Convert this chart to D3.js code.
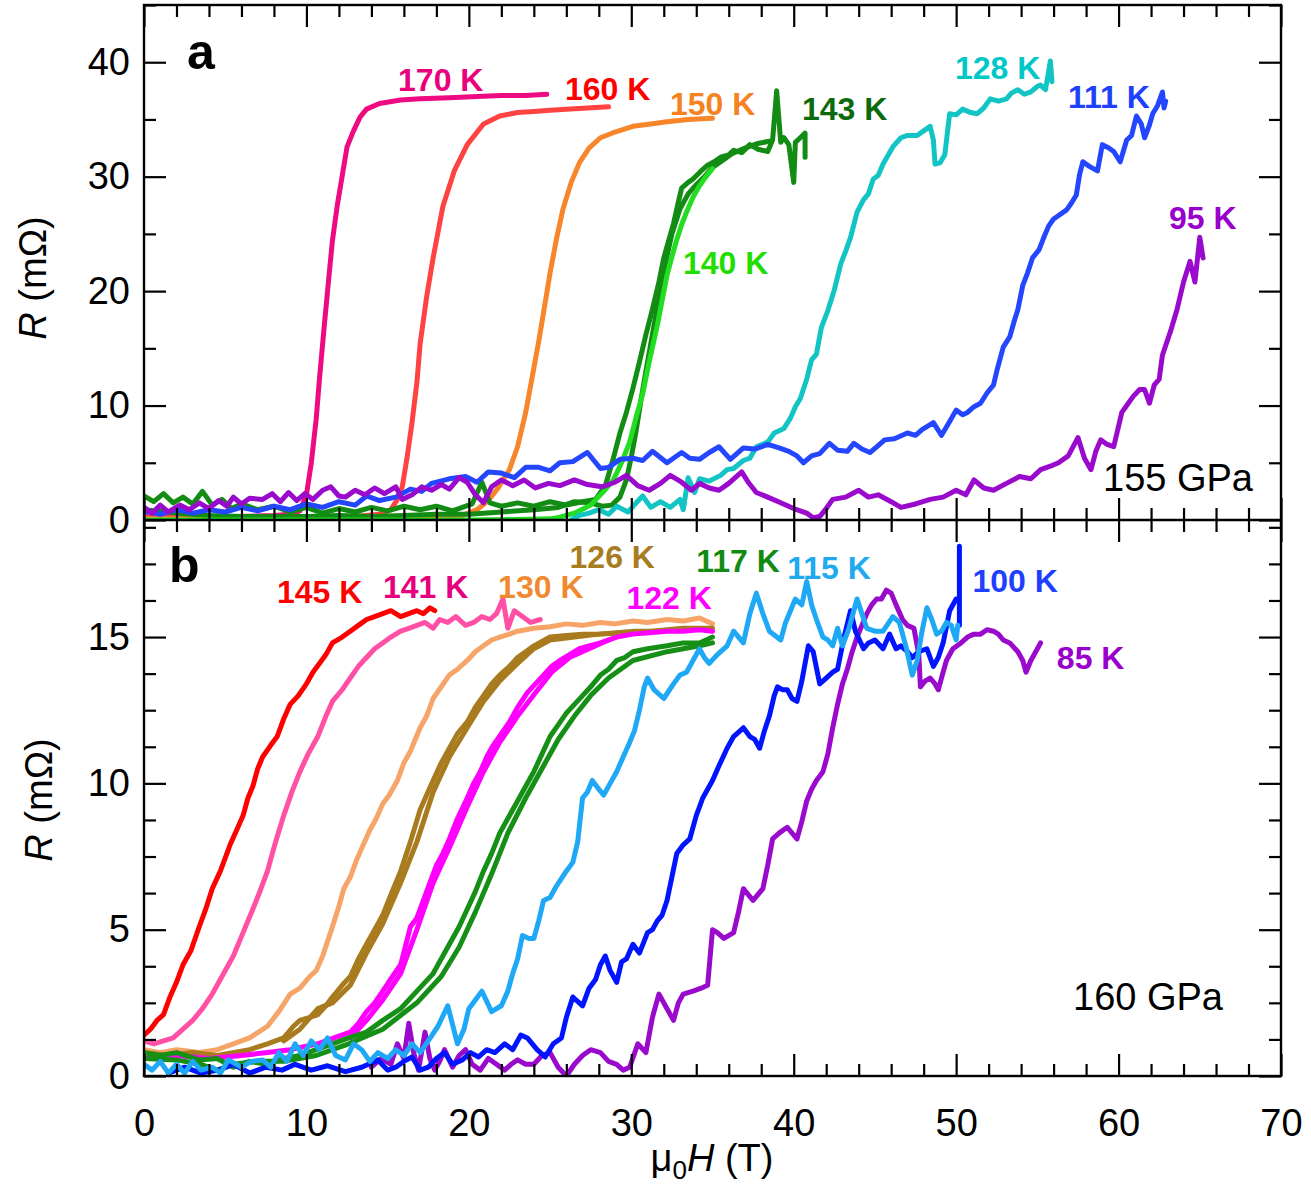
<!DOCTYPE html>
<html><head><meta charset="utf-8">
<script src="https://cdn.jsdelivr.net/npm/d3@7"></script>
<style>
body{margin:0;background:#fff;}
svg{display:block;font-family:"Liberation Sans",Arial,sans-serif;}
</style></head>
<body>
<svg id="chart" width="1311" height="1194"></svg>
<script>
// ---------- DATA (mu0H in T, R in mOhm) ----------
const xTicksMajor = [0,10,20,30,40,50,60,70];
const aTicksMajor = [0,10,20,30,40];
const bTicksMajor = [0,5,10,15];

// Panel a (155 GPa)
const a170 = [[0,0.3],[2,0.2],[4,0.3],[6,0.3],[8,0.4],[9,0.5],[9.6,0.8],[10,2.2],[10.3,5],[10.6,8.8],[10.8,12.3],[11.1,17],[11.4,21.5],[11.6,24.4],[11.9,27.5],[12.1,29.2],[12.5,32.6],[12.9,34],[13.3,35.2],[13.7,35.9],[14.5,36.4],[15.8,36.7],[17,36.8],[18.8,36.9],[20.5,37],[22,37.1],[23.5,37.1],[24.8,37.2]];
const a160 = [[0,0.2],[4,0.2],[8,0.2],[11,0.2],[13,0.3],[14.5,0.5],[15.2,0.9],[15.6,1.8],[15.9,2.9],[16.2,5.5],[16.5,8.5],[16.8,12],[17.0,15.4],[17.4,19.5],[17.8,22.9],[18.4,27.4],[19.1,30.5],[19.9,32.8],[20.9,34.6],[21.9,35.3],[23,35.6],[24,35.7],[25,35.8],[26,35.9],[27.3,36],[28.6,36.1]];
const a150 = [[0,0.1],[5,0.1],[10,0.1],[15,0.1],[18,0.2],[19.4,0.3],[20.5,0.9],[21.2,1.7],[21.8,2.8],[22.5,4.4],[23.0,6.4],[23.5,9.4],[23.9,12.5],[24.3,15.6],[24.7,19],[25.0,21.6],[25.4,24.6],[25.8,27.2],[26.3,29.5],[26.8,31.2],[27.4,32.5],[28.1,33.4],[29,33.9],[30.1,34.4],[31.2,34.6],[32.2,34.8],[33.5,35],[35,35.1]];
const a143up = [[0,2.1],[0.6,1.6],[1.2,2.3],[1.8,1.5],[2.4,2],[3,1.4],[3.6,2.5],[4.2,1.3],[4.8,1.8],[5.4,1],[6,1.4],[7,0.9],[8,1.2],[9,0.7],[10,1.1],[11,0.6],[12,1],[13,0.7],[14,1.1],[15,0.8],[16,1.2],[17,0.9],[18,1.2],[19,0.8],[20.2,1.4],[20.8,3.3],[21.3,1.5],[22,1.2],[23,1.5],[24,1.2],[25,1.6],[26,1.3],[27,1.6],[27.8,1.8],[28.4,3],[28.9,5.4],[29.3,7.6],[29.7,9.4],[30.1,11.5],[30.5,13.8],[30.9,16.2],[31.3,18.4],[31.7,20.8],[32.0,22.9],[32.3,24.4],[32.6,25.9],[32.9,27.8],[33.1,29],[33.5,29.5],[33.8,29.8],[34.3,30.5],[34.7,31],[35.1,31.3],[35.5,31.7],[36,31.9],[36.3,32.3],[36.8,32.1],[37.3,32.8],[37.8,32.4],[38.4,32.2],[38.7,33.2],[38.95,37.5],[39.2,33],[39.4,33.4],[39.7,32.8],[40.0,29.5],[40.1,33],[40.4,33.4],[40.7,33.8],[40.7,31.7]];
const a143down = [[0,0.9],[2,0.6],[4,0.4],[6,0.3],[8,0.3],[10,0.3],[12,0.4],[14,0.3],[16,0.4],[18,0.5],[20,0.5],[22,0.7],[24,0.9],[25.5,1.1],[26.5,1.6],[27.5,1.5],[28.2,1.2],[28.8,1.3],[29.3,2],[29.7,3.5],[30,5.5],[30.3,7.8],[30.6,10.5],[30.9,13],[31.3,16.2],[31.7,19.4],[32.1,22.4],[32.5,25],[33,27.2],[33.5,28.5],[34,29.3],[34.5,30],[35,30.8],[35.6,31.4],[36.2,32],[37,32.5],[37.8,32.9],[38.5,33.1]];
const a140 = [[0,0],[5,0],[10,0],[15,0],[20,0],[23,0.05],[25,0.1],[25.6,0.25],[26.5,0.6],[27.5,1.3],[28.3,2.5],[28.9,3.5],[29.4,5],[29.9,6.8],[30.3,9],[30.7,11],[31.1,13.8],[31.6,17],[31.9,19.2],[32.2,21.4],[32.5,23],[32.8,24.5],[33.1,25.8],[33.4,26.9],[33.8,28.2],[34.2,29.2],[34.6,30],[35,30.7]];
const a128 = [[26.3,0],[26.8,0.4],[27.4,0.6],[28,0.9],[28.6,0.5],[29.1,1.2],[29.8,0.7],[30.3,1.5],[30.7,2.1],[31.2,1.1],[31.8,1.6],[32.4,1.1],[33,1.8],[33.2,0.9],[33.5,3.7],[33.9,2.4],[34.2,3.6],[34.8,3.4],[35.5,3.9],[35.9,4.4],[36.3,4.5],[36.9,5.2],[37.3,5.4],[37.7,6.4],[38.4,6.8],[38.8,7.6],[39.4,8],[39.8,8.9],[40.1,9.9],[40.4,10.6],[40.8,12.3],[41.1,14],[41.4,14.5],[41.7,16.8],[42.1,18.3],[42.5,20.1],[42.9,22.4],[43.2,23.5],[43.5,24.7],[43.9,26.9],[44.3,28],[44.6,28.5],[44.9,29.8],[45.2,30.1],[45.5,31.1],[46.1,32.6],[46.6,33.4],[47,33.6],[47.6,33.6],[48,34],[48.4,34.4],[48.6,33.2],[48.7,31.1],[49,31.2],[49.3,31.9],[49.6,35.5],[50,35.4],[50.4,35.9],[50.9,35.6],[51.3,35.5],[51.7,36],[52.1,36.8],[52.6,36.6],[53.1,36.8],[53.4,37.3],[53.8,37.6],[54.2,37.2],[54.6,37.4],[55,37.9],[55.2,38],[55.5,37.6],[55.8,40.1],[55.9,38.3]];
const a111 = [[0,0.8],[1,0.5],[2,0.9],[3,0.6],[4,0.9],[5,0.7],[6,1.1],[7,0.8],[8,1.2],[9,0.9],[10,1.4],[11,1.1],[12,1.6],[13,1.3],[13.7,2.1],[14.5,1.7],[15.5,2.0],[16.4,2.7],[17.1,2.5],[17.7,3.2],[18.8,3.6],[19.8,3.8],[20.5,3.3],[21.2,4.2],[22,4.1],[22.8,3.7],[23.5,4.6],[24.3,4.6],[25,4.3],[25.6,5],[26.4,5.1],[27.3,5.9],[28.1,4.5],[28.6,4.6],[29.3,5.3],[30.1,5.4],[30.7,5.2],[31.3,6],[32.2,5],[33.1,5.9],[33.6,5.4],[34.2,5.3],[34.8,5.9],[35.4,6.4],[36.1,5.3],[36.9,6.3],[37.6,6.2],[38.4,6.6],[39.1,6.3],[39.7,6],[40.2,5.6],[40.6,5.0],[41.1,5.6],[41.6,5.8],[42.2,6.7],[42.7,6.1],[43.3,6],[43.7,6.7],[44.2,6.2],[44.7,5.9],[45.2,6.5],[45.6,7],[46.2,7.1],[47,7.6],[47.5,7.4],[47.9,7.9],[48.6,8.5],[49.1,7.4],[49.6,8.6],[50,9.6],[50.4,9.2],[50.7,9.4],[51.1,9.9],[51.5,10.2],[51.9,11.1],[52.3,11.8],[52.5,13],[52.9,15.1],[53.3,16],[53.6,17.5],[53.8,18.4],[54.1,20.5],[54.4,21.6],[54.7,22.9],[55.1,23.6],[55.4,24.7],[55.7,25.7],[56,26.3],[56.4,26.7],[56.8,27.1],[57.1,27.7],[57.4,28.4],[57.6,30.2],[57.8,31.3],[58.2,30.9],[58.7,30.5],[59,32.8],[59.4,32.5],[59.7,32.2],[60.1,31.3],[60.5,33.2],[60.8,33.6],[61.1,35.3],[61.4,34.6],[61.6,33.4],[61.9,34.5],[62.1,35.5],[62.4,36.2],[62.7,37.4],[62.8,36],[62.9,36.6]];
const a95 = [[0,1.1],[0.5,0.6],[1,1.3],[1.5,0.7],[2.2,1.3],[2.8,0.9],[3.4,1.5],[4,1.0],[4.6,1.7],[5.1,1.2],[5.5,2.0],[6,1.4],[6.5,1.9],[7.3,1.8],[7.9,2.3],[8.4,1.6],[8.9,2.4],[9.4,1.7],[9.9,2.3],[10.4,1.8],[11,2.6],[11.5,2.9],[12,2.1],[12.4,2.0],[13,2.6],[13.6,2.2],[14.2,2.8],[14.8,2.3],[15.5,2.9],[15.9,1.8],[16.5,2.2],[17.1,2.9],[17.7,2.6],[18.3,3.1],[18.8,2.7],[19.4,3.7],[19.9,3.3],[20.4,2.2],[20.9,1.5],[21.4,2.9],[22,3.5],[22.7,3.0],[23.4,3.5],[24.1,2.8],[24.9,3.2],[25.6,3.0],[26.5,3.5],[27.3,3.1],[28.2,2.9],[29,3.3],[29.7,3.9],[30.4,3.0],[31.1,2.6],[31.8,3.2],[32.4,3.9],[33.1,3.3],[33.7,2.6],[34.2,3.2],[34.8,2.8],[35.4,2.6],[36,3.2],[36.8,4.2],[37.2,3.3],[37.7,2.4],[38.4,2.0],[39.2,1.5],[40,1.0],[40.8,0.6],[41.2,0.2],[41.6,0.3],[42,1.0],[42.4,1.8],[43.2,2.0],[44,2.6],[44.6,2.0],[45.2,2.2],[46,1.6],[46.6,1.1],[47.5,1.4],[48.4,1.8],[49.2,2.0],[50,2.6],[50.6,2.2],[51.1,3.5],[51.7,2.8],[52.3,2.6],[53.1,3.2],[53.9,3.8],[54.6,3.6],[55.2,4.4],[55.8,4.7],[56.3,5.0],[56.9,5.6],[57.5,7.2],[57.9,5.4],[58.3,4.4],[58.6,6.0],[58.9,7.0],[59.3,6.6],[59.7,6.4],[60.2,9.4],[60.6,10.2],[60.9,10.8],[61.3,11.4],[61.6,11.4],[61.9,10.2],[62.2,11.8],[62.5,12.3],[62.7,14.4],[63.2,16.5],[63.6,18.4],[64,20.8],[64.4,22.6],[64.7,20.8],[65,24.7],[65.2,22.9]];

// Panel b (160 GPa)
const b145 = [[0,1.4],[0.4,1.6],[0.8,1.9],[1.2,2.1],[1.6,2.7],[2,3.2],[2.4,3.8],[2.9,4.3],[3.4,5.1],[3.8,5.7],[4.2,6.4],[4.7,7.0],[5.3,7.9],[5.7,8.4],[6.1,8.9],[6.4,9.5],[6.7,9.9],[7.0,10.5],[7.3,10.9],[7.8,11.3],[8.2,11.6],[8.6,12.2],[9,12.7],[9.5,13.0],[10,13.4],[10.4,13.8],[10.8,14.1],[11.2,14.4],[11.6,14.8],[12.2,15.0],[12.7,15.2],[13.2,15.4],[13.7,15.6],[14.2,15.7],[14.7,15.8],[15.2,15.9],[15.8,15.7],[16.3,15.8],[16.8,15.9],[17.2,15.8],[17.6,16.0],[17.9,15.9]];
const b141 = [[0,1.2],[0.6,1.1],[1.2,1.2],[1.8,1.3],[2.4,1.6],[3,1.9],[3.6,2.3],[4.2,2.8],[4.8,3.4],[5.5,4.1],[6.1,4.9],[6.7,5.7],[7.2,6.4],[7.6,7.0],[8.1,8.0],[8.6,8.9],[9.1,9.7],[9.6,10.4],[10.1,11.0],[10.7,11.6],[11.2,12.3],[11.6,12.8],[12.2,13.2],[12.7,13.6],[13.2,14.0],[13.7,14.3],[14.2,14.6],[14.7,14.8],[15.2,15.0],[15.8,15.2],[16.3,15.3],[16.8,15.4],[17.3,15.5],[17.8,15.3],[18.2,15.6],[18.7,15.5],[19.2,15.7],[19.8,15.4],[20.3,15.5],[20.8,15.7],[21.3,15.6],[21.7,15.8],[22.1,16.3],[22.4,15.3],[22.8,15.9],[23.3,15.7],[23.8,15.5],[24.4,15.6]];
const b130 = [[0,0.9],[1,0.8],[2,0.9],[3.4,0.8],[4.5,0.9],[5.5,1.1],[6.5,1.3],[7.6,1.7],[8.3,2.2],[9,2.8],[9.6,3.0],[10.2,3.4],[10.6,3.6],[11,4.1],[11.3,4.6],[11.6,5.1],[12,5.8],[12.3,6.4],[12.7,6.8],[13.1,7.4],[13.5,7.9],[13.9,8.4],[14.3,8.8],[14.7,9.3],[15.1,9.6],[15.6,10.1],[16,10.7],[16.4,11.1],[17,11.9],[17.4,12.3],[17.8,12.9],[18.3,13.3],[18.8,13.7],[19.3,13.9],[19.9,14.2],[20.4,14.5],[20.9,14.7],[21.4,14.9],[21.9,15.0],[22.5,15.1],[23,15.2],[24,15.3],[25,15.35],[26,15.45],[27,15.4],[28.1,15.5],[29,15.45],[30.1,15.55],[31,15.5],[32.2,15.6],[33.2,15.55],[34.2,15.65],[35,15.45]];
const b126 = [[0,0.8],[1.5,0.7],[3,0.8],[4.5,0.7],[6.5,0.9],[7.6,1.1],[8.6,1.3],[9.2,1.7],[9.6,1.9],[10.2,2.0],[10.7,2.1],[11.2,2.4],[11.6,2.7],[12.2,3.1],[12.7,3.4],[13.2,4.0],[13.7,4.5],[14.2,5.0],[14.7,5.5],[15.2,6.2],[15.8,7.0],[16.4,8.0],[17,9.1],[17.4,9.6],[17.8,10.1],[18.3,10.7],[18.8,11.2],[19.3,11.7],[19.9,12.1],[20.4,12.6],[20.9,13.0],[21.4,13.4],[21.9,13.7],[22.5,14.0],[23,14.3],[23.5,14.5],[24,14.7],[25,15.0],[26,15.05],[27,15.1],[28,15.1],[29.1,15.15],[30.2,15.2],[31.2,15.2],[32.2,15.25],[33.2,15.3],[34.2,15.3],[35,15.3]];
const b126back = [[8.6,1.2],[9.6,1.6],[10.7,2.3],[11.6,2.5],[12.7,3.1],[13.7,4.2],[14.7,5.2],[15.8,6.6],[16.8,8.0],[17.8,9.7],[18.8,10.9],[19.9,11.9],[20.9,12.8],[21.9,13.5],[23,14.1],[24,14.6],[25,14.9],[26.5,15.0],[28,15.1],[30,15.15]];
const b122 = [[0,0.6],[2,0.7],[4,0.6],[6,0.7],[7.6,0.8],[9,0.9],[10.7,1.1],[11.7,1.3],[12.7,1.5],[13.2,1.8],[13.7,2.2],[14.2,2.5],[14.7,2.9],[15.3,3.4],[15.8,3.8],[16.4,5.1],[16.8,5.4],[17.2,6.0],[17.6,6.6],[18,7.2],[18.4,7.6],[18.8,8.1],[19.3,8.8],[19.9,9.5],[20.3,10.0],[20.7,10.4],[21.1,10.9],[21.5,11.3],[22,11.7],[22.5,12.1],[23,12.6],[23.6,13.1],[24.1,13.4],[24.6,13.7],[25.1,14.0],[25.6,14.2],[26.2,14.4],[26.8,14.6],[27.4,14.7],[28.1,14.8],[29.1,15.0],[30.1,15.1],[31.1,15.15],[32.2,15.2],[33.2,15.2],[34.2,15.25],[35,15.2]];
const b122back = [[12.7,1.3],[13.7,1.9],[14.7,2.6],[15.8,3.5],[16.8,5.0],[17.8,6.6],[18.8,7.8],[19.9,9.2],[20.9,10.4],[21.9,11.4],[23,12.3],[24.1,13.1],[25.1,13.8],[26.2,14.3],[27.4,14.6],[28.6,14.9]];
const b117 = [[0,0.8],[1,0.7],[2,0.8],[3.4,0.55],[4.5,0.6],[5.5,0.3],[6.5,0.5],[7.6,0.4],[8.6,0.6],[9.6,0.7],[10.6,0.9],[11.6,1.1],[12.6,1.3],[13.7,1.5],[14.7,1.9],[15.8,2.3],[16.8,2.9],[17.8,3.5],[18.8,4.5],[19.4,5.1],[19.9,5.7],[20.4,6.3],[20.9,7.0],[21.4,7.6],[21.9,8.3],[22.4,8.8],[23,9.4],[23.5,9.9],[24,10.4],[24.5,11.0],[25,11.6],[25.5,12.0],[26,12.4],[26.5,12.7],[27,13.0],[27.5,13.3],[28.1,13.7],[28.6,13.9],[29.1,14.2],[29.6,14.3],[30.1,14.5],[31,14.6],[32.2,14.7],[33.2,14.8],[34.2,14.8],[35,15.0]];
const b117back = [[0,0.6],[2,0.55],[3.5,0.4],[4.5,0.2],[5.5,0.4],[7,0.5],[8.6,0.5],[10.6,0.7],[12.6,1.1],[14.7,1.6],[16.8,2.5],[18.3,3.4],[19.4,4.4],[20.4,5.6],[21.4,6.9],[22.4,8.3],[23.5,9.5],[24.5,10.5],[25.5,11.5],[26.5,12.3],[27.5,13.0],[28.6,13.6],[30.1,14.2],[32.2,14.5],[34.2,14.7],[35,14.8]];
const b115 = [[0,0.4],[0.5,0.2],[1,0.5],[1.5,0.1],[2,0.4],[2.5,0.1],[3,0.5],[3.5,0.2],[4.2,0.3],[4.7,0.1],[5.2,0.55],[6,0.3],[6.6,0.5],[7.3,0.55],[7.8,0.3],[8.3,0.8],[8.8,0.5],[9.3,1.1],[9.8,0.7],[10.3,1.2],[10.8,0.9],[11.3,1.3],[11.8,0.7],[12.4,0.55],[12.9,1.1],[13.4,0.9],[13.9,0.5],[14.4,0.8],[15,0.6],[15.5,0.9],[16,0.7],[16.5,1.1],[17,0.8],[17.5,1.2],[18.1,1.7],[18.7,2.4],[19.3,1.1],[19.7,1.6],[20.0,2.3],[20.4,2.6],[20.8,2.9],[21.4,2.2],[22,2.4],[22.4,2.9],[22.7,3.5],[23,4.0],[23.3,4.8],[23.7,4.7],[24,4.7],[24.3,5.3],[24.6,6.0],[25,6.1],[25.4,6.5],[26,7.0],[26.4,7.3],[26.7,8.0],[27,9.5],[27.3,9.7],[27.6,10.1],[28,9.8],[28.3,9.6],[28.7,10.0],[29.1,10.4],[29.5,10.9],[29.9,11.4],[30.2,11.8],[30.5,12.5],[30.8,13.3],[31,13.6],[31.4,13.2],[32,12.9],[32.6,13.4],[33.0,13.7],[33.4,13.8],[33.8,14.2],[34.2,14.6],[34.5,14.3],[34.8,14.1],[35.3,14.4],[35.9,14.7],[36.3,15.2],[36.9,14.8],[37.3,15.8],[37.7,16.5],[38.1,15.8],[38.5,15.2],[39.2,14.9],[39.5,15.5],[39.8,15.9],[40.1,16.3],[40.5,16.1],[40.8,16.9],[41.1,16.1],[41.4,15.6],[41.8,15.0],[42.1,14.9],[42.4,14.7],[42.7,15.3],[43,14.7],[43.4,15.3],[43.9,16.3],[44.2,15.8],[44.5,15.3],[45,15.2],[45.5,15.2],[46.1,15.7],[46.5,15.5],[46.9,14.7],[47.3,13.7],[47.6,14.2],[47.9,15.2],[48.2,16.0],[48.5,15.6],[48.8,15.1],[49.1,15.2],[49.4,15.5],[49.7,15.4],[50,14.9],[50.1,15.4]];
const b100 = [[1.5,0.1],[2.5,0.3],[3.5,0.1],[4.6,0.2],[5.5,0.4],[6.5,0.1],[7.5,0.3],[8.5,0.2],[9.3,0.4],[10.3,0.2],[11.3,0.35],[12.4,0.15],[13.4,0.3],[14.4,0.55],[15,0.2],[15.5,0.3],[16,0.5],[16.5,0.65],[17,0.2],[17.5,0.3],[18,0.6],[18.5,0.8],[19,0.4],[19.6,0.55],[20.1,0.8],[20.6,0.65],[21.1,0.9],[21.6,0.8],[22.2,1.1],[22.7,0.9],[23.2,1.4],[23.6,1.3],[24.2,0.9],[24.7,0.65],[25.2,1.1],[25.7,1.3],[26,2.0],[26.4,2.7],[27,2.4],[27.4,3.0],[27.8,3.3],[28.1,3.8],[28.4,4.1],[28.7,3.6],[29.1,3.2],[29.4,3.9],[29.7,4.0],[30.1,4.5],[30.5,4.2],[31,4.9],[31.3,5.0],[31.6,5.3],[31.9,5.5],[32.2,6.0],[32.5,6.8],[32.8,7.6],[33.2,7.9],[33.6,8.1],[34,8.9],[34.4,9.5],[34.7,9.8],[35,10.1],[35.4,10.6],[35.9,11.2],[36.3,11.6],[36.9,11.9],[37.3,11.6],[37.6,11.5],[37.9,11.2],[38.2,11.8],[38.5,12.3],[38.8,13.0],[39.0,13.3],[39.3,13.2],[39.6,13.2],[39.9,12.9],[40.2,12.8],[40.5,13.5],[40.9,14.7],[41.2,14.5],[41.6,13.4],[42,13.6],[42.4,13.8],[42.7,13.9],[43.1,15.0],[43.5,15.9],[43.8,15.2],[44.3,14.6],[44.6,14.8],[45,14.9],[45.5,14.6],[45.9,15.1],[46.3,14.6],[46.6,14.7],[47.0,14.5],[47.3,14.3],[47.7,14.5],[48.2,14.6],[48.6,14.0],[48.9,14.3],[49.2,14.8],[49.6,15.9],[50,16.3],[50.2,16.2],[50.2,18.1],[50.2,15.4]];
const b85 = [[14,0.3],[14.6,0.6],[15.2,0.4],[15.6,1.1],[16.0,0.6],[16.3,1.8],[16.6,0.8],[16.9,0.2],[17.3,1.5],[17.6,0.6],[17.9,0.2],[18.2,0.5],[18.5,0.9],[19.0,0.3],[19.4,0.7],[19.8,0.9],[20.2,0.4],[20.7,0.2],[21.2,0.6],[21.7,0.4],[22.2,0.2],[22.6,0.4],[23,0.55],[23.5,0.4],[24,0.4],[24.5,0.7],[25,0.8],[25.5,0.3],[26,0],[26.5,0.4],[27,0.7],[27.5,0.9],[28.1,0.8],[28.6,0.5],[29.1,0.4],[29.5,0.2],[29.9,0.3],[30.4,1.1],[30.9,0.8],[31.3,2.0],[31.7,2.8],[32.1,2.4],[32.6,1.9],[32.9,2.5],[33.2,2.8],[33.8,2.9],[34.3,3.0],[34.7,3.1],[35,5.0],[35.3,4.9],[35.7,4.7],[36.3,4.9],[36.6,5.6],[36.9,6.4],[37.2,6.2],[37.5,6.0],[38.1,6.4],[38.4,7.2],[38.7,8.1],[39.1,8.3],[39.6,8.5],[40.2,8.1],[40.5,8.7],[40.8,9.4],[41.1,9.8],[41.4,10.1],[41.8,10.4],[42.1,11.0],[42.4,11.9],[42.7,12.7],[43,13.4],[43.3,13.9],[43.6,14.5],[43.9,15.0],[44.2,15.4],[44.5,15.8],[44.8,16.1],[45.1,16.3],[45.4,16.3],[45.7,16.6],[46.0,16.5],[46.3,16.1],[46.7,15.6],[47,15.4],[47.4,15.3],[47.7,14.4],[47.8,13.3],[48.1,13.5],[48.4,13.6],[48.7,13.4],[48.9,13.2],[49.2,13.8],[49.4,14.2],[49.8,14.6],[50.3,14.8],[50.7,15.0],[51.1,15.1],[51.5,15.1],[51.9,15.25],[52.3,15.2],[52.6,15.1],[52.9,14.9],[53.3,14.8],[53.8,14.5],[54.1,14.2],[54.3,13.8],[54.6,14.2],[54.9,14.5],[55.2,14.8]];

// series: [data, color]  (draw order)
const seriesA = [
  [a170,"#EE0A80"],[a160,"#FF4242"],[a150,"#F7862A"],
  [a143down,"#128C12"],[a143up,"#128C12"],[a140,"#22DD22"],
  [a128,"#12C4C4"],[a111,"#2446FF"],[a95,"#9A0ACC"]
];
const seriesB = [
  [b145,"#FF0000"],[b141,"#FF50A5"],[b130,"#F6A468"],
  [b126back,"#A87B1F"],[b126,"#A87B1F"],[b122back,"#FF00FF"],[b122,"#FF00FF"],
  [b117back,"#158F15"],[b117,"#158F15"],
  [b85,"#9A0ACC"],[b100,"#0014FF"],[b115,"#1EA8F5"]
];
// labels: [text, T position, R position, color]
const labelsA = [
  ["170 K",15.64,37.5,"#E8007D"],["160 K",25.92,36.7,"#FF0000"],["150 K",32.38,35.4,"#F5821F"],
  ["143 K",40.51,34.95,"#0B6B0B"],["140 K",33.18,21.5,"#22DD00"],["128 K",49.93,38.5,"#00C8C8"],
  ["111 K",56.89,36.0,"#2040FF"],["95 K",63.1,25.4,"#9900CC"]
];
const labelsB = [
  ["145 K",8.19,16.16,"#FF0000"],["141 K",14.71,16.33,"#E6007E"],["130 K",21.8,16.33,"#F08A30"],
  ["126 K",26.2,17.35,"#A87C20"],["122 K",29.7,15.97,"#FF00FF"],["117 K",34.0,17.22,"#118B11"],
  ["115 K",39.6,16.98,"#22AAEE"],["100 K",51.0,16.54,"#1F3FFF"],["85 K",56.2,13.9,"#9900CC"]
];

// ---------- LAYOUT ----------
const L = 144, R = 1281, topA = 5, mid = 520, botB = 1076;
const svg = d3.select("#chart");
const x = d3.scaleLinear().domain([0,70]).range([L,R]);
const yA = d3.scaleLinear().domain([0,45]).range([mid,topA]);
const yB = d3.scaleLinear().domain([0,19]).range([botB,mid]);

const defs = svg.append("defs");
defs.append("clipPath").attr("id","clipA").append("rect").attr("x",L).attr("y",topA).attr("width",R-L).attr("height",mid-topA);
defs.append("clipPath").attr("id","clipB").append("rect").attr("x",L).attr("y",mid).attr("width",R-L).attr("height",botB-mid);

function drawSeries(list, y, clip){
  const g = svg.append("g").attr("clip-path",`url(#${clip})`);
  const line = d3.line().x(d=>x(d[0])).y(d=>y(d[1]));
  list.forEach(([data,col])=>{
    g.append("path").attr("d",line(data)).attr("fill","none").attr("stroke",col)
      .attr("stroke-width",5).attr("stroke-linejoin","round").attr("stroke-linecap","round");
  });
}
drawSeries(seriesA, yA, "clipA");
drawSeries(seriesB, yB, "clipB");

function range(a,b,s){const r=[];for(let v=a;v<=b+1e-9;v+=s)r.push(+v.toFixed(4));return r;}
const xMinor = range(0,70,2).filter(v=>v%10!==0);
const aMinor = range(0,45,5).filter(v=>v%10!==0);
const bMinor = range(0,19,1.25).filter(v=>v%5!==0);

function tickAxis(axisFn, scale, vals, len, tx, ty){
  const g = svg.append("g").attr("transform",`translate(${tx},${ty})`)
    .call(axisFn(scale).tickValues(vals).tickSize(len).tickFormat(""));
  g.select(".domain").remove();
  g.selectAll(".tick line").attr("stroke","#000").attr("stroke-width",2.2);
}
const MJ=22, MN=12;
tickAxis(d3.axisTop, x, xTicksMajor, MJ, 0, mid);
tickAxis(d3.axisTop, x, xMinor, MN, 0, mid);
tickAxis(d3.axisBottom, x, xTicksMajor, MJ, 0, topA);
tickAxis(d3.axisBottom, x, xMinor, MN, 0, topA);
tickAxis(d3.axisBottom, x, xTicksMajor, MJ, 0, mid);
tickAxis(d3.axisBottom, x, xMinor, MN, 0, mid);
tickAxis(d3.axisTop, x, xTicksMajor, MJ, 0, botB);
tickAxis(d3.axisTop, x, xMinor, MN, 0, botB);
tickAxis(d3.axisRight, yA, aTicksMajor, MJ, L, 0);
tickAxis(d3.axisRight, yA, aMinor, MN, L, 0);
tickAxis(d3.axisLeft, yA, aTicksMajor, MJ, R, 0);
tickAxis(d3.axisLeft, yA, aMinor, MN, R, 0);
tickAxis(d3.axisRight, yB, bTicksMajor, MJ, L, 0);
tickAxis(d3.axisRight, yB, bMinor, MN, L, 0);
tickAxis(d3.axisLeft, yB, bTicksMajor, MJ, R, 0);
tickAxis(d3.axisLeft, yB, bMinor, MN, R, 0);

svg.append("rect").attr("x",L).attr("y",topA).attr("width",R-L).attr("height",botB-topA)
  .attr("fill","none").attr("stroke","#000").attr("stroke-width",2.4);
svg.append("line").attr("x1",L).attr("x2",R).attr("y1",mid).attr("y2",mid).attr("stroke","#000").attr("stroke-width",2.4);

function labelAxis(axisFn, scale, vals, pad, tx, ty){
  const g = svg.append("g").attr("transform",`translate(${tx},${ty})`)
    .call(axisFn(scale).tickValues(vals).tickSize(0).tickPadding(pad).tickFormat(d3.format("d")));
  g.select(".domain").remove();
  g.selectAll("text").attr("font-size",38).attr("font-family","Liberation Sans, Arial, sans-serif").attr("fill","#000");
}
labelAxis(d3.axisBottom, x, xTicksMajor, 33, 0, botB);
labelAxis(d3.axisLeft, yA, aTicksMajor, 14, L, 0);
labelAxis(d3.axisLeft, yB, bTicksMajor, 14, L, 0);

function curveLabels(list, y){
  list.forEach(([t,xv,yv,c])=>{
    svg.append("text").attr("x",x(xv)).attr("y",y(yv)).attr("font-size",32).attr("font-weight","bold")
      .attr("fill",c).text(t);
  });
}
curveLabels(labelsA, yA);
curveLabels(labelsB, yB);

svg.append("text").attr("x",187).attr("y",69).attr("font-size",50).attr("font-weight","bold").text("a");
svg.append("text").attr("x",169).attr("y",582).attr("font-size",50).attr("font-weight","bold").text("b");
svg.append("text").attr("x",1253).attr("y",491).attr("text-anchor","end").attr("font-size",38).text("155 GPa");
svg.append("text").attr("x",1223).attr("y",1010).attr("text-anchor","end").attr("font-size",38).text("160 GPa");

function yTitle(cx, cy){
  const t = svg.append("text").attr("transform",`translate(${cx},${cy}) rotate(-90)`)
    .attr("text-anchor","middle").attr("font-size",38);
  t.append("tspan").attr("font-style","italic").text("R");
  t.append("tspan").text(" (mΩ)");
}
yTitle(46, 278);
yTitle(52, 800);
const xt = svg.append("text").attr("x",712).attr("y",1171).attr("text-anchor","middle").attr("font-size",38);
xt.append("tspan").text("μ");
xt.append("tspan").attr("font-size",26).attr("dy",8).text("0");
xt.append("tspan").attr("dy",-8).attr("font-style","italic").text("H");
xt.append("tspan").text(" (T)");
</script>
</body></html>
